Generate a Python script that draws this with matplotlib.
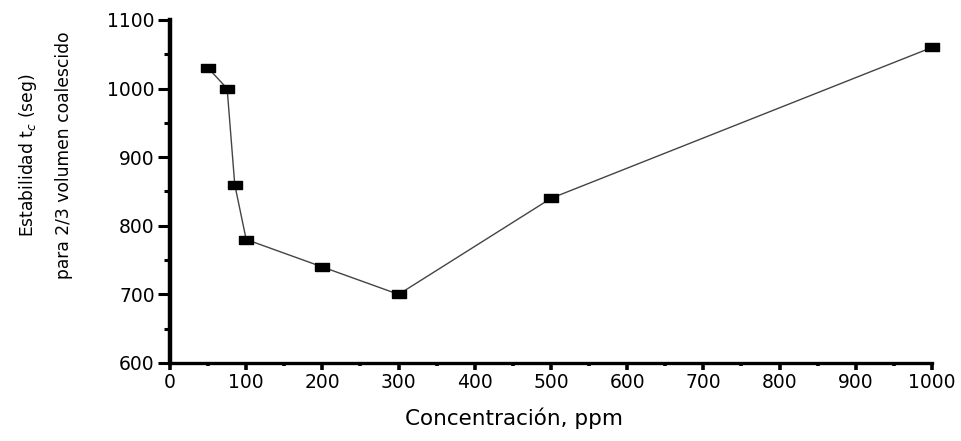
import matplotlib
matplotlib.use('Agg')
import matplotlib.pyplot as plt
from matplotlib.ticker import MultipleLocator

plt.rcParams['font.family'] = ['DejaVu Sans']
plt.rcParams['mathtext.fontset'] = 'dejavusans'

# Data
concentration = [50, 75, 85, 100, 200, 300, 500, 1000]
stability = [1030, 1000, 860, 780, 740, 700, 840, 1060]

x_ticks = [0, 100, 200, 300, 400, 500, 600, 700, 800, 900, 1000]
y_ticks = [600, 700, 800, 900, 1000, 1100]

# flat rectangle marker (the original figure is stretched sideways)
rect = [(-1.0, -0.6), (1.0, -0.6), (1.0, 0.6), (-1.0, 0.6), (-1.0, -0.6)]

fig = plt.figure(figsize=(9.62, 4.41), dpi=100)
ax = fig.add_axes([0.1767, 0.1769, 0.7921, 0.7778])

ax.plot(concentration, stability, color='#444444', linewidth=1.0,
        marker=rect, markersize=9.5, markerfacecolor='black', markeredgecolor='black',
        clip_on=False, zorder=3)

ax.set_xlim(0, 1000)
ax.set_ylim(600, 1100)
ax.set_xticks(x_ticks)
ax.set_yticks(y_ticks)
ax.xaxis.set_minor_locator(MultipleLocator(50))
ax.yaxis.set_minor_locator(MultipleLocator(50))

for side in ['top', 'right']:
    ax.spines[side].set_visible(False)
ax.spines['left'].set_linewidth(3.2)
ax.spines['bottom'].set_linewidth(2.4)

ax.tick_params(axis='y', which='major', direction='out', length=9, width=2.2, labelsize=13.5, pad=2)
ax.tick_params(axis='y', which='minor', direction='out', length=4, width=2.2)
ax.tick_params(axis='x', which='major', direction='out', length=5, width=2.6, labelsize=13.5, pad=2)
ax.tick_params(axis='x', which='minor', direction='out', length=2.5, width=2.6)

ax.set_xlabel('Concentración, ppm', fontsize=15.5, va='center')
ax.xaxis.set_label_coords(0.452, -0.160)

ax.set_ylabel('Estabilidad t$_c$ (seg)\npara 2/3 volumen coalescido', fontsize=12.3,
              va='center', linespacing=2.2)
ax.yaxis.set_label_coords(-0.164, 0.606)

fig.savefig('out.png', dpi=100)
